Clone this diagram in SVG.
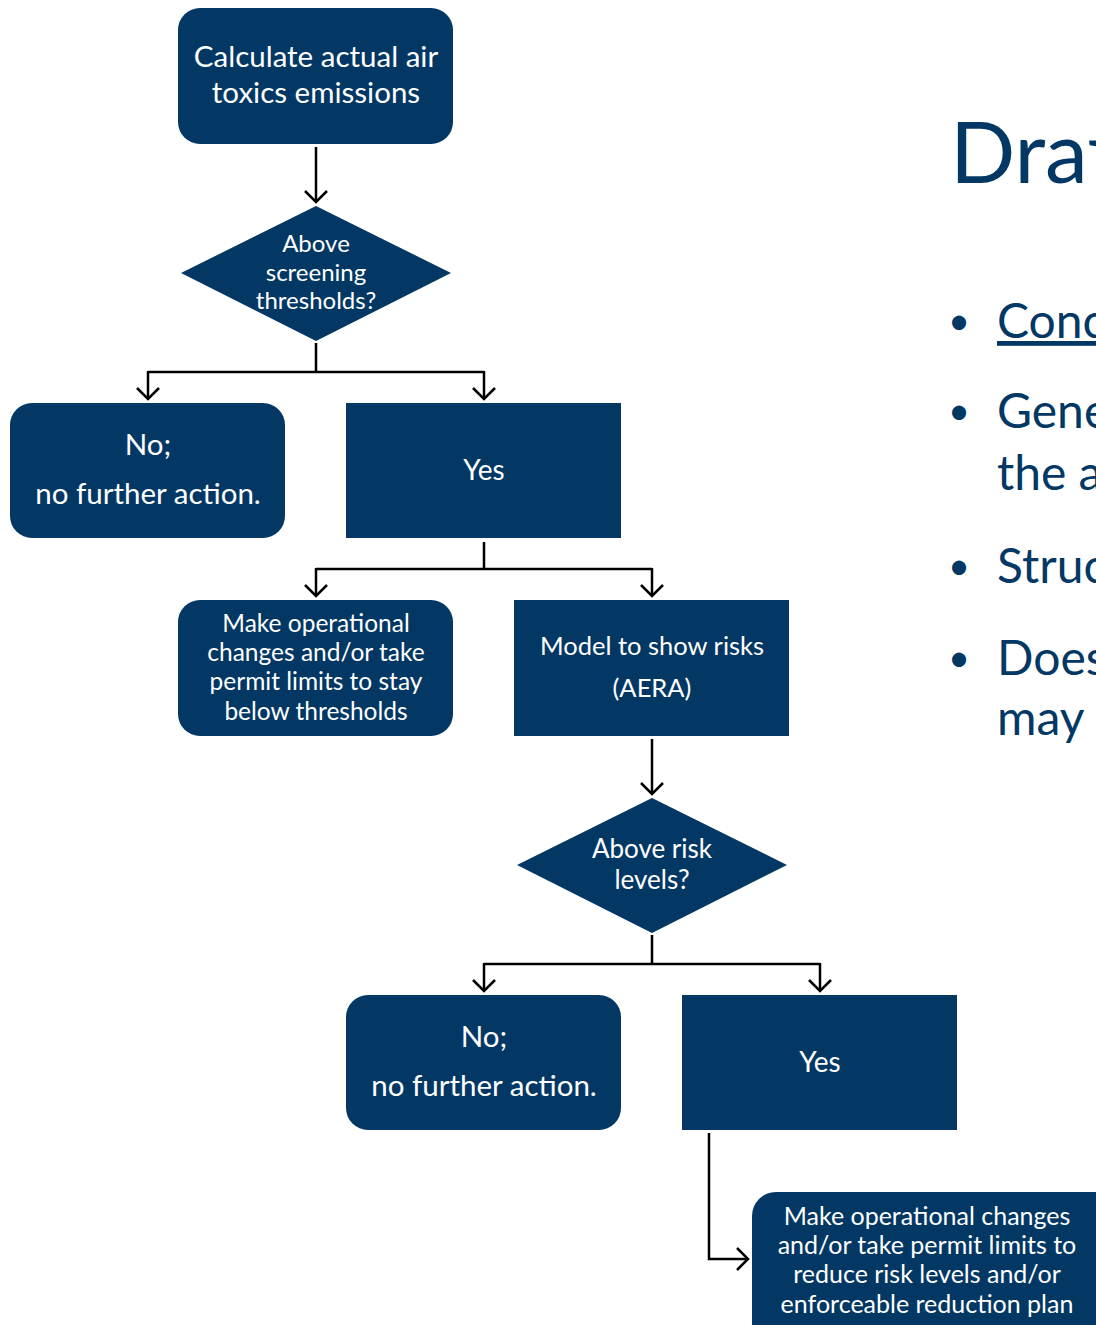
<svg xmlns="http://www.w3.org/2000/svg" width="1096" height="1325" viewBox="0 0 1096 1325">
<defs>
<style>
.n{fill:#033865;}
.t{fill:#ffffff;font-family:Lato,"Liberation Sans",sans-serif;text-anchor:middle;}
.c{fill:none;stroke:#000;stroke-width:2.5;}
.s{fill:#033865;font-family:Lato,"Liberation Sans",sans-serif;}
</style>
<marker id="a" markerUnits="userSpaceOnUse" markerWidth="24" markerHeight="24" refX="12" refY="12" orient="auto">
<path d="M1,1 L12,12 L1,23" fill="none" stroke="#000" stroke-width="2.5"/>
</marker>
</defs>
<rect width="1096" height="1325" fill="#fff"/>
<g id="connectors">
<path class="c" d="M316,147 V202" marker-end="url(#a)"/>
<path class="c" d="M316,343 V372 M148,372 H484"/>
<path class="c" d="M148,371 V399" marker-end="url(#a)"/>
<path class="c" d="M484,371 V399" marker-end="url(#a)"/>
<path class="c" d="M484,542 V569 M316,569 H652"/>
<path class="c" d="M316,568 V596" marker-end="url(#a)"/>
<path class="c" d="M652,568 V596" marker-end="url(#a)"/>
<path class="c" d="M652,739 V794" marker-end="url(#a)"/>
<path class="c" d="M652,935 V964 M484,964 H820"/>
<path class="c" d="M484,963 V991" marker-end="url(#a)"/>
<path class="c" d="M820,963 V991" marker-end="url(#a)"/>
<path class="c" d="M709,1133 V1259 H748" marker-end="url(#a)"/>
</g>
<g id="n1"><rect class="n" x="178" y="8" width="275" height="136" rx="22"/>
<text class="t" font-size="29.5" x="316" y="67">Calculate actual air</text>
<text class="t" font-size="29.5" x="316" y="103">toxics emissions</text></g>
<g id="d1"><polygon class="n" points="316,206 451,273 316,341 181,273"/>
<text class="t" font-size="24" x="316" y="252">Above</text>
<text class="t" font-size="24" x="316" y="281">screening</text>
<text class="t" font-size="24" x="316" y="309">thresholds?</text></g>
<g id="no1"><rect class="n" x="10" y="403" width="275" height="135" rx="22"/>
<text class="t" font-size="29.5" x="148" y="455">No;</text>
<text class="t" font-size="29.5" x="148" y="504">no further action.</text></g>
<g id="yes1"><rect class="n" x="346" y="403" width="275" height="135"/>
<text class="t" font-size="28" x="484" y="480">Yes</text></g>
<g id="ops1"><rect class="n" x="178" y="600" width="275" height="136" rx="22"/>
<text class="t" font-size="24.5" x="316" y="632">Make operational</text>
<text class="t" font-size="24.5" x="316" y="661">changes and/or take</text>
<text class="t" font-size="24.5" x="316" y="690">permit limits to stay</text>
<text class="t" font-size="24.5" x="316" y="720">below thresholds</text></g>
<g id="model"><rect class="n" x="514" y="600" width="275" height="136"/>
<text class="t" font-size="25.5" x="652" y="655">Model to show risks</text>
<text class="t" font-size="25.5" x="652" y="697">(AERA)</text></g>
<g id="d2"><polygon class="n" points="652,798 787,865 652,933 517,865"/>
<text class="t" font-size="26" x="652" y="858">Above risk</text>
<text class="t" font-size="26" x="652" y="889">levels?</text></g>
<g id="no2"><rect class="n" x="346" y="995" width="275" height="135" rx="22"/>
<text class="t" font-size="29.5" x="484" y="1047">No;</text>
<text class="t" font-size="29.5" x="484" y="1096">no further action.</text></g>
<g id="yes2"><rect class="n" x="682" y="995" width="275" height="135"/>
<text class="t" font-size="28" x="820" y="1072">Yes</text></g>
<g id="ops2"><rect class="n" x="752" y="1192" width="370" height="160" rx="24"/>
<text class="t" font-size="25" x="927" y="1225">Make operational changes</text>
<text class="t" font-size="25" x="927" y="1254">and/or take permit limits to</text>
<text class="t" font-size="25" x="927" y="1283">reduce risk levels and/or</text>
<text class="t" font-size="25" x="927" y="1313">enforceable reduction plan</text></g>
<g id="slide-text">
<text class="s" font-size="86" x="950" y="183">Draft</text>
<text class="s" font-size="38" x="948" y="334">•</text>
<text class="s" font-size="48" x="997" y="338" text-decoration="underline">Conc</text>
<text class="s" font-size="38" x="948" y="424">•</text>
<text class="s" font-size="48" x="997" y="428">Gene</text>
<text class="s" font-size="48" x="997" y="490">the a</text>
<text class="s" font-size="38" x="948" y="579">•</text>
<text class="s" font-size="48" x="997" y="583">Struc</text>
<text class="s" font-size="38" x="948" y="671">•</text>
<text class="s" font-size="48" x="997" y="675">Does</text>
<text class="s" font-size="48" x="997" y="735">may</text>
</g>
</svg>
